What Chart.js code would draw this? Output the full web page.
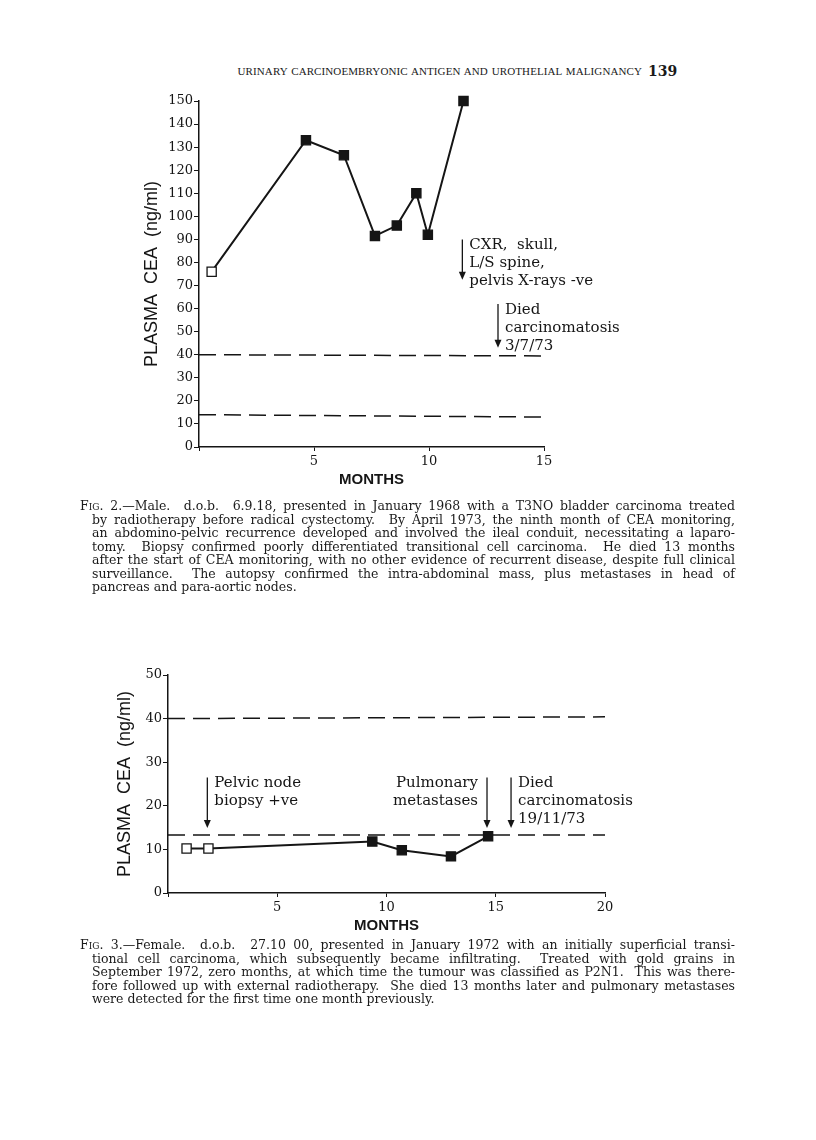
<!DOCTYPE html>
<html>
<head>
<meta charset="utf-8">
<script src="https://cdn.jsdelivr.net/npm/chart.js@4/dist/chart.umd.min.js"></script>
<style>
  body { margin: 0; background: #fff; }
  #page { position: relative; width: 816px; height: 1140px; overflow: hidden; background: #fff; color: #1a1a1a; }
  canvas { position: absolute; left: 0; }
  .hdr { position: absolute; top: 65px; right: 174px; font: 11px "Liberation Serif"; letter-spacing: 0.1px; word-spacing: 1px; white-space: nowrap; }
  .pg { position: absolute; top: 63px; left: 648px; font: bold 14px "DejaVu Serif"; }
  .cap { position: absolute; left: 80px; width: 655px; font: 12.5px/13.5px "DejaVu Serif"; }
  .cap div { text-align: justify; text-align-last: justify; margin-left: 12px; white-space: nowrap; }
  .cap div.first { margin-left: 0; }
  .cap div.last { text-align-last: left; }
  .sc { font-variant: small-caps; }
</style>
</head>
<body>
<div id="page">
  <div class="hdr">URINARY CARCINOEMBRYONIC ANTIGEN AND UROTHELIAL MALIGNANCY</div>
  <div class="pg">139</div>

  <canvas id="fig2" width="816" height="450" style="top:50px"></canvas>
  <canvas id="fig3" width="816" height="320" style="top:640px"></canvas>

  <div class="cap" style="top:499px">
    <div class="first">F<span class="sc">ig</span>. 2.—Male.&nbsp; d.o.b.&nbsp; 6.9.18, presented in January 1968 with a T3NO bladder carcinoma treated</div>
    <div>by radiotherapy before radical cystectomy.&nbsp; By April 1973, the ninth month of CEA monitoring,</div>
    <div>an abdomino-pelvic recurrence developed and involved the ileal conduit, necessitating a laparo-</div>
    <div>tomy.&nbsp; Biopsy confirmed poorly differentiated transitional cell carcinoma.&nbsp; He died 13 months</div>
    <div>after the start of CEA monitoring, with no other evidence of recurrent disease, despite full clinical</div>
    <div>surveillance.&nbsp; The autopsy confirmed the intra-abdominal mass, plus metastases in head of</div>
    <div class="last">pancreas and para-aortic nodes.</div>
  </div>

  <div class="cap" style="top:938px">
    <div class="first">F<span class="sc">ig</span>. 3.—Female.&nbsp; d.o.b.&nbsp; 27.10 00, presented in January 1972 with an initially superficial transi-</div>
    <div>tional cell carcinoma, which subsequently became infiltrating.&nbsp; Treated with gold grains in</div>
    <div>September 1972, zero months, at which time the tumour was classified as P2N1.&nbsp; This was there-</div>
    <div>fore followed up with external radiotherapy.&nbsp; She died 13 months later and pulmonary metastases</div>
    <div class="last">were detected for the first time one month previously.</div>
  </div>
</div>

<script>
// Fig. 2 - male patient
const months2 = [0.55, 4.65, 6.3, 7.65, 8.6, 9.45, 9.95, 11.5];
const cea2 = [76, 133, 126.5, 91.5, 96, 110, 92, 150];
const open2 = [true, false, false, false, false, false, false, false];
const limitX2 = [0, 15];
const upper2 = [40, 39.5];
const lower2 = [14, 13];
const noteMonths2 = [11.45, 13.0];
const noteTop2 = [90, 62];
const noteBottom2 = [72.5, 43];
const noteSide2 = ["right", "right"];
const noteText2 = [["CXR,  skull,", "L/S spine,", "pelvis X-rays -ve"], ["Died", "carcinomatosis", "3/7/73"]];

// Fig. 3 - female patient
const months3 = [0.85, 1.85, 9.35, 10.7, 12.95, 14.65];
const cea3 = [10.2, 10.2, 11.8, 9.8, 8.4, 13.0];
const open3 = [true, true, false, false, false, false];
const limitX3 = [0, 20];
const upper3 = [40, 40.4];
const lower3 = [13.3, 13.3];
const noteMonths3 = [1.8, 14.6, 15.7];
const noteTop3 = [26.5, 26.5, 26.5];
const noteBottom3 = [14.9, 14.9, 14.9];
const noteSide3 = ["right", "left", "right"];
const noteText3 = [["Pelvic node", "biopsy +ve"], ["Pulmonary", "metastases"], ["Died", "carcinomatosis", "19/11/73"]];

const ink = "#151515";

function arrowNotes(months, tops, bottoms, sides, texts) {
  return {
    id: "arrowNotes",
    afterDatasetsDraw(chart) {
      const { ctx, scales: { x, y } } = chart;
      ctx.save();
      ctx.strokeStyle = ink;
      ctx.fillStyle = ink;
      months.forEach((m, i) => {
        const px = x.getPixelForValue(m);
        const top = y.getPixelForValue(tops[i]);
        const bot = y.getPixelForValue(bottoms[i]);
        ctx.lineWidth = 1.3;
        ctx.beginPath();
        ctx.moveTo(px, top);
        ctx.lineTo(px, bot - 6);
        ctx.stroke();
        ctx.beginPath();
        ctx.moveTo(px - 3.5, bot - 8);
        ctx.lineTo(px + 3.5, bot - 8);
        ctx.lineTo(px, bot);
        ctx.closePath();
        ctx.fill();
        ctx.font = '15px "DejaVu Serif"';
        ctx.textBaseline = "middle";
        const onLeft = sides[i] === "left";
        ctx.textAlign = onLeft ? "right" : "left";
        const tx = onLeft ? px - 9 : px + 7;
        texts[i].forEach((t, j) => ctx.fillText(t, tx, top + 6 + j * 18));
      });
      ctx.restore();
    }
  };
}

function limitLine(xs, ys) {
  return {
    data: xs.map((v, i) => ({ x: v, y: ys[i] })),
    borderColor: ink,
    borderWidth: 1.5,
    borderDash: [17, 8],
    pointRadius: 0,
    tension: 0
  };
}

function makeChart(id, o) {
  return new Chart(document.getElementById(id), {
    type: "line",
    data: {
      datasets: [
        {
          data: o.months.map((m, i) => ({ x: m, y: o.values[i] })),
          borderColor: ink,
          borderWidth: 2,
          tension: 0,
          clip: false,
          pointStyle: "rect",
          pointRadius: 6.5,
          pointBorderWidth: 1.3,
          pointBorderColor: ink,
          pointBackgroundColor: o.open.map(v => (v ? "#fff" : ink))
        },
        limitLine(o.limitX, o.upper),
        limitLine(o.limitX, o.lower)
      ]
    },
    options: {
      responsive: false,
      animation: false,
      layout: { padding: o.pad },
      plugins: { legend: { display: false }, tooltip: { enabled: false } },
      scales: {
        x: {
          type: "linear",
          min: 0,
          max: o.xMax,
          afterFit: s => { s.height = o.xH; },
          border: { color: ink, width: 1.5 },
          grid: { drawOnChartArea: false, tickLength: 4, color: ink },
          ticks: {
            stepSize: 5,
            padding: 3,
            color: ink,
            font: { family: "DejaVu Serif", size: 13 },
            callback: v => (v === 0 ? "" : v)
          },
          title: {
            display: true,
            text: "MONTHS",
            color: ink,
            font: { family: "Liberation Sans", size: 15, weight: "bold" },
            padding: { top: 0, bottom: o.xTitlePad }
          }
        },
        y: {
          min: 0,
          max: o.yMax,
          afterFit: s => { s.width = o.yW; },
          border: { color: ink, width: 1.5 },
          grid: { drawOnChartArea: false, tickLength: 5, color: ink },
          ticks: {
            stepSize: 10,
            padding: 1,
            color: ink,
            font: { family: "DejaVu Serif", size: 13 }
          },
          title: {
            display: true,
            text: "PLASMA  CEA  (ng/ml)",
            color: ink,
            font: { family: "Liberation Sans", size: 18 },
            padding: { top: 4, bottom: 0 }
          }
        }
      }
    },
    plugins: [arrowNotes(o.noteMonths, o.noteTop, o.noteBottom, o.noteSide, o.noteText)]
  });
}

makeChart("fig2", {
  months: months2, values: cea2, open: open2,
  limitX: limitX2, upper: upper2, lower: lower2,
  noteMonths: noteMonths2, noteTop: noteTop2, noteBottom: noteBottom2, noteSide: noteSide2, noteText: noteText2,
  xMax: 15, yMax: 150,
  pad: { left: 137, top: 51, right: 272, bottom: 0 },
  yW: 62, xH: 53, xTitlePad: 11
});

makeChart("fig3", {
  months: months3, values: cea3, open: open3,
  limitX: limitX3, upper: upper3, lower: lower3,
  noteMonths: noteMonths3, noteTop: noteTop3, noteBottom: noteBottom3, noteSide: noteSide3, noteText: noteText3,
  xMax: 20, yMax: 50,
  pad: { left: 110, top: 35, right: 211, bottom: 0 },
  yW: 58, xH: 67, xTitlePad: 25
});
</script>
</body>
</html>
